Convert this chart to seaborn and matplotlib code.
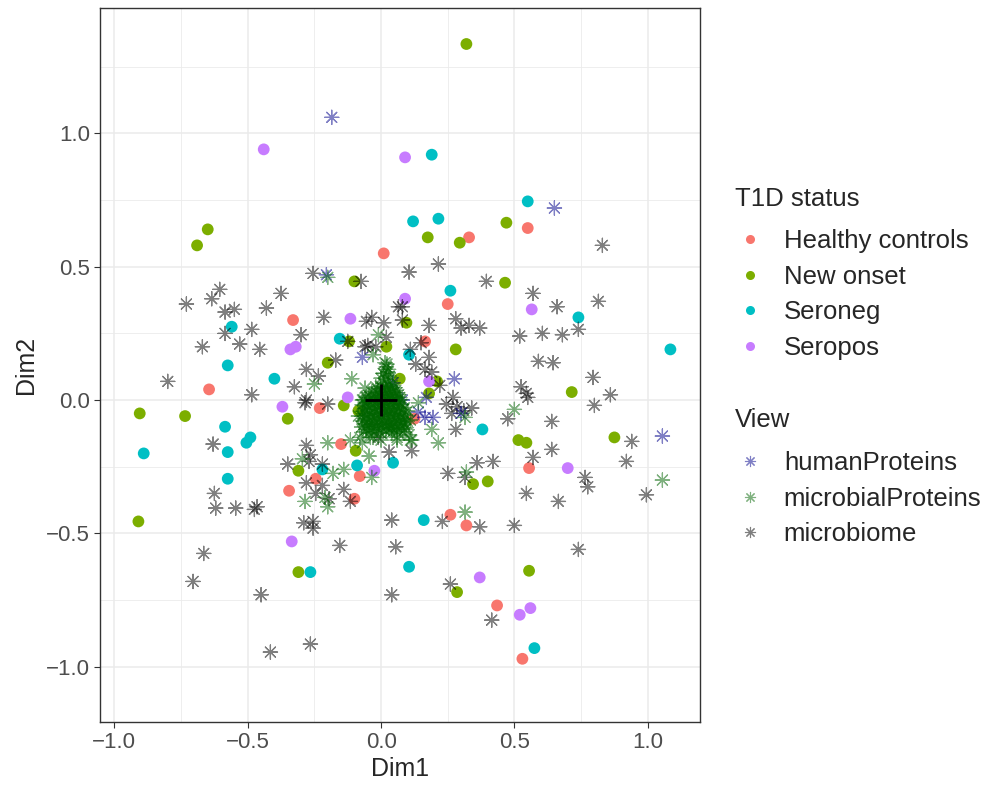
import pandas as pd
import seaborn as sns
import matplotlib.pyplot as plt
from matplotlib.lines import Line2D

sns.set_style("white")
plt.rcParams["font.family"] = ["Liberation Sans", "DejaVu Sans"]

# sample scores (circles), by T1D status
healthy_x = [0.01, 0.33, 0.55, 0.25, -0.33, -0.645, -0.23, -0.15, -0.245, -0.08,
             -0.345, -0.10, 0.165, 0.125, 0.555, 0.26, 0.32, 0.435, 0.53]
healthy_y = [0.55, 0.61, 0.645, 0.36, 0.30, 0.04, -0.03, -0.165, -0.295, -0.285,
             -0.34, -0.37, 0.22, -0.07, -0.255, -0.43, -0.47, -0.77, -0.97]
onset_x = [0.32, -0.65, -0.69, -0.10, 0.02, 0.175, 0.295, 0.47, 0.465, 0.095, 0.28,
           -0.20, -0.905, -0.735, -0.35, -0.14, -0.085, -0.31, -0.91, -0.095, 0.21,
           0.18, 0.715, 0.515, 0.545, 0.875, 0.345, 0.40, -0.31, 0.285, 0.555, 0.07, -0.12]
onset_y = [1.335, 0.64, 0.58, 0.445, 0.20, 0.61, 0.59, 0.665, 0.44, 0.29, 0.19,
           0.14, -0.05, -0.06, -0.07, -0.02, -0.04, -0.265, -0.455, -0.19, 0.07,
           0.025, 0.03, -0.15, -0.16, -0.14, -0.315, -0.305, -0.645, -0.72, -0.64, 0.08, 0.22]
seroneg_x = [0.19, 0.55, 0.12, 0.215, 0.26, 0.74, 1.085, -0.56, -0.155, -0.575, -0.40,
             -0.585, -0.49, -0.505, -0.575, -0.89, -0.575, -0.22, -0.09, 0.045, 0.105,
             0.38, 0.16, -0.265, 0.105, 0.575]
seroneg_y = [0.92, 0.745, 0.67, 0.68, 0.41, 0.31, 0.19, 0.275, 0.23, 0.13, 0.08,
             -0.10, -0.14, -0.16, -0.195, -0.20, -0.295, -0.26, -0.245, -0.235, 0.17,
             -0.11, -0.45, -0.645, -0.625, -0.93]
seropos_x = [-0.44, 0.09, -0.115, -0.32, -0.34, 0.09, 0.565, -0.37, -0.025, -0.125,
             0.18, 0.70, -0.335, 0.37, 0.56, 0.52]
seropos_y = [0.94, 0.91, 0.305, 0.20, 0.19, 0.38, 0.34, -0.025, -0.265, 0.01,
             0.07, -0.255, -0.53, -0.665, -0.78, -0.805]

# feature loadings (asterisks), by view
human_x = [-0.185, 0.65, -0.205, -0.07, 0.275, 0.17, 0.14, 0.165, 0.30, 1.055, 0.045, 0.08, 0.195]
human_y = [1.06, 0.72, 0.47, 0.16, 0.08, 0.01, -0.045, -0.065, -0.05, -0.135, 0.065, 0.0, -0.065]

microbial_x = [-0.20, -0.01, -0.25, -0.11, -0.03, -0.20, -0.295, -0.21, -0.20, -0.285,
               -0.18, -0.14, -0.045, -0.035, 0.14, 0.19, 0.215, 0.115, 0.315, 0.50,
               1.055, 0.32, 0.315, 0.0, 0.06, 0.11, 0.04, 0.11, -0.07, -0.115, -0.07, -0.03,
               # dense core around the origin
               0.012, 0.028, 0.043,
               -0.012, 0.006, 0.023, 0.04, 0.055,
               -0.046, -0.024, -0.004, 0.015, 0.033, 0.051, 0.066,
               -0.066, -0.047, -0.028, -0.01, 0.009, 0.027, 0.044, 0.062, 0.074,
               -0.071, -0.052, -0.033, -0.014, 0.004, 0.022, 0.041, 0.058, 0.077,
               -0.068, -0.049, -0.029, -0.011, 0.008, 0.027, 0.046, 0.064, 0.083,
               -0.072, -0.053, -0.034, -0.016, 0.003, 0.021, 0.039, 0.057, 0.076, 0.092,
               -0.07, -0.05, -0.031, -0.012, 0.006, 0.025, 0.044, 0.062, 0.081, 0.098,
               -0.073, -0.054, -0.035, -0.017, 0.002, 0.02, 0.039, 0.058, 0.077, 0.095,
               -0.066, -0.045, -0.024, -0.003, 0.018, 0.04, 0.061, 0.082,
               0.022, 0.008, 0.03, -0.06, -0.085, 0.1, 0.105, -0.04, 0.06, -0.08,
               0.01, 0.025, 0.02, 0.015, 0.028,
               0.0, 0.018, 0.035,
               -0.02, -0.003, 0.016, 0.033, 0.05,
               -0.035, -0.015, 0.005, 0.024, 0.043, 0.06,
               -0.056, -0.037, -0.019, 0.0, 0.018, 0.036, 0.053, 0.07,
               -0.06, -0.041, -0.022, -0.004, 0.014, 0.032, 0.05, 0.068,
               -0.062, -0.043, -0.024, -0.005, 0.013, 0.032, 0.051, 0.07, 0.088,
               -0.063, -0.044, -0.025, -0.006, 0.012, 0.03, 0.048, 0.067, 0.085,
               -0.062, -0.042, -0.022, -0.003, 0.016, 0.035, 0.053, 0.072, 0.09,
               -0.064, -0.044, -0.026, -0.007, 0.011, 0.03, 0.049, 0.068, 0.087,
               -0.057, -0.036, -0.014, 0.008, 0.029, 0.05, 0.071, 0.09]
microbial_y = [0.46, 0.245, 0.06, 0.08, 0.17, -0.16, -0.22, -0.365, -0.40, -0.38,
               -0.275, -0.26, -0.21, -0.29, -0.01, -0.11, -0.16, -0.15, -0.065, -0.035,
               -0.30, -0.27, -0.42, -0.15, -0.14, -0.15, -0.105, -0.075, 0.0, -0.15, -0.16, -0.14,
               0.062, 0.058, 0.055,
               0.041, 0.044, 0.038, 0.042, 0.036,
               0.018, 0.022, 0.017, 0.023, 0.019, 0.016, 0.021,
               0.002, -0.003, 0.004, -0.001, 0.003, -0.002, 0.001, -0.004, 0.002,
               -0.018, -0.023, -0.017, -0.022, -0.019, -0.024, -0.018, -0.021, -0.016,
               -0.042, -0.038, -0.043, -0.037, -0.041, -0.044, -0.039, -0.042, -0.036,
               -0.061, -0.057, -0.063, -0.058, -0.062, -0.056, -0.061, -0.059, -0.063, -0.057,
               -0.078, -0.083, -0.079, -0.082, -0.077, -0.081, -0.084, -0.078, -0.082, -0.079,
               -0.101, -0.097, -0.103, -0.099, -0.102, -0.098, -0.104, -0.1, -0.096, -0.103,
               -0.119, -0.123, -0.118, -0.122, -0.117, -0.124, -0.12, -0.118,
               0.135, 0.1, 0.09, 0.045, -0.06, -0.04, -0.13, -0.14, -0.15, -0.14,
               0.10, 0.105, 0.125, 0.14, 0.115,
               0.082, 0.078, 0.084,
               0.05, 0.052, 0.048, 0.05, 0.047,
               0.03, 0.028, 0.032, 0.029, 0.031, 0.028,
               0.011, 0.009, 0.012, 0.008, 0.011, 0.009, 0.012, 0.01,
               -0.011, -0.009, -0.012, -0.008, -0.011, -0.009, -0.012, -0.009,
               -0.031, -0.029, -0.032, -0.028, -0.031, -0.029, -0.032, -0.03, -0.028,
               -0.05, -0.052, -0.049, -0.051, -0.048, -0.052, -0.05, -0.049, -0.051,
               -0.07, -0.072, -0.069, -0.071, -0.068, -0.072, -0.07, -0.069, -0.071,
               -0.09, -0.092, -0.089, -0.091, -0.088, -0.092, -0.09, -0.089, -0.091,
               -0.11, -0.112, -0.109, -0.111, -0.108, -0.112, -0.11, -0.109]

microbiome_x = [-0.255, -0.075, -0.605, -0.635, -0.73, -0.375, -0.585, -0.55, -0.43, -0.215,
                -0.055, -0.035, 0.01, 0.065, -0.485, -0.585, -0.30, 0.02, -0.67, -0.53,
                -0.455, -0.125, -0.06, -0.02,
                0.105, 0.215, 0.395, 0.57, 0.66, 0.815, 0.83, 0.08, 0.08, 0.18,
                0.28, 0.30, 0.33, 0.37, 0.52, 0.605, 0.68, 0.74, 0.15, 0.11,
                -0.80, -0.485, -0.28, -0.235, -0.17, -0.325, -0.285, -0.20, -0.63, -0.28,
                -0.265, -0.27, -0.35, -0.22, -0.625, -0.62, -0.545, -0.475, -0.465, -0.28,
                -0.245, -0.22, -0.195, -0.14, -0.115, 0.03, 0.04, -0.29, -0.255, -0.255,
                -0.05, -0.28, -0.01,
                0.18, 0.13, 0.165, 0.19, 0.22, 0.115, 0.27, 0.245, 0.285, 0.31,
                0.34, 0.265, 0.28, 0.59, 0.645, 0.795, 0.525, 0.545, 0.55, 0.86,
                0.80, 0.475, 0.64, 0.64, 0.57, 0.94, 0.92, 0.995, 0.765, 0.775,
                0.665, 0.545, 0.36, 0.42, 0.25, 0.315, 0.23, 0.37, 0.50,
                -0.155, 0.055, -0.665, -0.705, -0.45, 0.04, -0.265, -0.415,
                0.74, 0.26, 0.415]
microbiome_y = [0.475, 0.445, 0.415, 0.38, 0.36, 0.40, 0.33, 0.34, 0.345, 0.31,
                0.295, 0.31, 0.29, 0.35, 0.265, 0.25, 0.245, 0.235, 0.20, 0.21,
                0.19, 0.22, 0.20, 0.20,
                0.48, 0.51, 0.445, 0.40, 0.35, 0.37, 0.58, 0.35, 0.30, 0.28,
                0.305, 0.27, 0.28, 0.27, 0.24, 0.25, 0.245, 0.265, 0.215, 0.19,
                0.07, 0.02, 0.115, 0.09, 0.15, 0.05, -0.01, -0.015, -0.165, -0.17,
                -0.205, -0.23, -0.24, -0.24, -0.35, -0.405, -0.405, -0.41, -0.40, -0.31,
                -0.35, -0.32, -0.37, -0.335, -0.38, -0.195, -0.45, -0.46, -0.455, -0.48,
                0.205, 0.0, -0.14,
                0.16, 0.135, 0.115, 0.105, 0.055, -0.19, 0.01, -0.015, -0.025, -0.04,
                -0.03, -0.05, -0.11, 0.145, 0.14, 0.085, 0.05, 0.025, 0.01, 0.02,
                -0.02, -0.07, -0.08, -0.185, -0.215, -0.155, -0.23, -0.355, -0.29, -0.325,
                -0.38, -0.35, -0.235, -0.23, -0.275, -0.29, -0.455, -0.475, -0.47,
                -0.545, -0.55, -0.575, -0.68, -0.73, -0.73, -0.915, -0.945,
                -0.56, -0.69, -0.825]

origin_x = [0.0]
origin_y = [0.0]

status_levels = ["Healthy controls", "New onset", "Seroneg", "Seropos"]
status_colors = ["#F8766D", "#7CAE00", "#00BFC4", "#C77CFF"]
view_levels = ["humanProteins", "microbialProteins", "microbiome"]
view_colors = ["#00008B", "#006400", "#000000"]

samples = pd.concat([
    pd.DataFrame({"Dim1": healthy_x, "Dim2": healthy_y, "T1D status": status_levels[0]}),
    pd.DataFrame({"Dim1": onset_x, "Dim2": onset_y, "T1D status": status_levels[1]}),
    pd.DataFrame({"Dim1": seroneg_x, "Dim2": seroneg_y, "T1D status": status_levels[2]}),
    pd.DataFrame({"Dim1": seropos_x, "Dim2": seropos_y, "T1D status": status_levels[3]}),
])
features = pd.concat([
    pd.DataFrame({"Dim1": microbiome_x, "Dim2": microbiome_y, "View": view_levels[2]}),
    pd.DataFrame({"Dim1": human_x, "Dim2": human_y, "View": view_levels[0]}),
    pd.DataFrame({"Dim1": microbial_x, "Dim2": microbial_y, "View": view_levels[1]}),
])

fig = plt.figure(figsize=(9.87, 7.88), dpi=100)
ax = fig.add_axes([100 / 987, 66 / 788, 600 / 987, 714 / 788])

star = (8, 2, 0)
sns.scatterplot(data=samples, x="Dim1", y="Dim2", hue="T1D status",
                palette=dict(zip(status_levels, status_colors)),
                s=72, linewidth=0, legend=False, ax=ax, zorder=3)
sns.scatterplot(data=features, x="Dim1", y="Dim2", hue="View",
                palette=dict(zip(view_levels, view_colors)),
                marker=star, s=105, linewidth=0.9, alpha=0.5, legend=False, ax=ax, zorder=4)
sns.scatterplot(x=origin_x, y=origin_y, marker="+", s=550, linewidth=2,
                color="black", legend=False, ax=ax, zorder=5)

ax.set_xlim(-1.054, 1.196)
ax.set_ylim(-1.207, 1.47)
ax.set_xticks([-1.0, -0.5, 0.0, 0.5, 1.0])
ax.set_yticks([-1.0, -0.5, 0.0, 0.5, 1.0])
ax.set_xticks([-0.75, -0.25, 0.25, 0.75], minor=True)
ax.set_yticks([-0.75, -0.25, 0.25, 0.75, 1.25], minor=True)
ax.grid(which="major", color="#EBEBEB", linewidth=1.1)
ax.grid(which="minor", color="#EBEBEB", linewidth=0.6)
ax.set_axisbelow(True)
ax.tick_params(which="major", length=4, width=0.8, color="#333333",
               labelsize=16, labelcolor="#4D4D4D", pad=3)
ax.tick_params(which="minor", length=0)
ax.tick_params(axis="x", bottom=True)
ax.tick_params(axis="y", left=True)
for sp in ax.spines.values():
    sp.set_color("#333333")
    sp.set_linewidth(1.0)
ax.set_xlabel("Dim1", fontsize=18, labelpad=3)
ax.set_ylabel("Dim2", fontsize=18, labelpad=6)

status_handles = [Line2D([], [], marker="o", ls="", color=c, markersize=6.5, markeredgewidth=0)
                  for c in status_colors]
view_handles = [Line2D([], [], marker=star, ls="", color=c, alpha=0.5, markersize=8,
                       markeredgewidth=0.8) for c in view_colors]

# legend titles as separate text, so the gap to the first key matches ggplot
fig.text(735 / 987, 1 - 206 / 788, "T1D status", fontsize=18.5, ha="left", va="baseline")
fig.text(735 / 987, 1 - 427 / 788, "View", fontsize=18.5, ha="left", va="baseline")

legend_kw = dict(loc="upper left", frameon=False, fontsize=18.5,
                 borderpad=0, borderaxespad=0, handlelength=1.2,
                 handletextpad=0.7, labelspacing=0.45)
leg1 = fig.legend(status_handles, status_levels,
                  bbox_to_anchor=(735 / 987, 1 - 229 / 788), **legend_kw)
leg2 = fig.legend(view_handles, view_levels,
                  bbox_to_anchor=(735 / 987, 1 - 451 / 788), **legend_kw)

fig.savefig("out.png", dpi=100)
